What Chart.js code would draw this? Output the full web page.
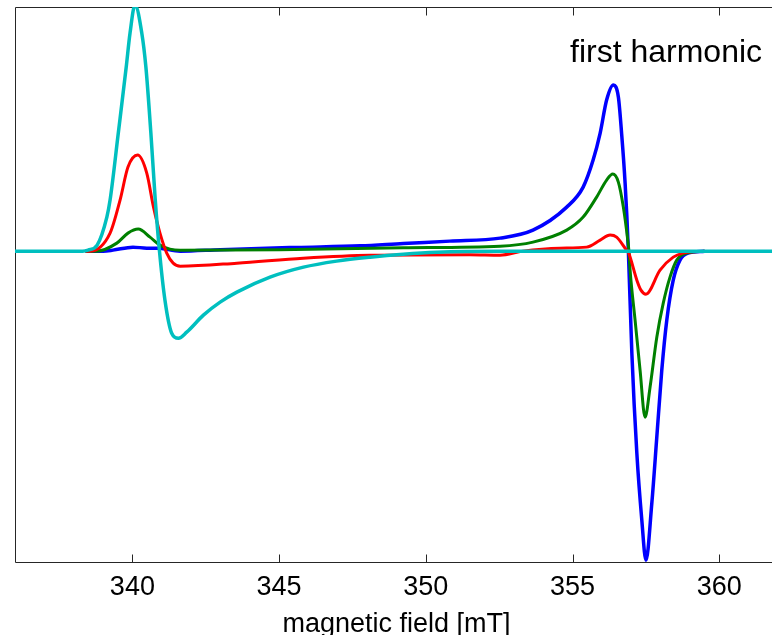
<!DOCTYPE html>
<html>
<head>
<meta charset="utf-8">
<script src="https://cdn.jsdelivr.net/npm/chart.js@4/dist/chart.umd.min.js"></script>
<style>
  html, body { margin: 0; padding: 0; background: #fff; overflow: hidden; width: 772px; height: 635px; }
  #wrap { position: absolute; left: 0; top: 0; width: 800px; height: 650px; }
</style>
</head>
<body>
<div id="wrap"><canvas id="c" width="800" height="650"></canvas></div>
<script>
// ---- data (magnetic field in mT, signal in arbitrary units) ----
const xTicks = [340, 345, 350, 355, 360];
const xLabel = 'magnetic field [mT]';
const annotation = 'first harmonic';

const cyanField  = [336.0, 338.3, 338.49, 338.80, 339.13, 339.24, 339.52, 339.79, 339.92, 340.09, 340.32, 340.46, 340.63, 340.78, 340.92, 341.11, 341.34, 341.57, 341.85, 342.42, 342.99, 343.56, 344.69, 345.83, 346.96, 348.10, 349.23, 350.37, 352.53, 362.0];
const cyanSignal = [0, 0, 0.01, 0.06, 0.34, 0.51, 1.18, 1.84, 2.18, 2.46, 2.18, 1.84, 1.18, 0.51, 0.01, -0.49, -0.82, -0.87, -0.81, -0.64, -0.51, -0.41, -0.26, -0.16, -0.10, -0.06, -0.03, -0.01, 0, 0];

const redField  = [338.4, 338.56, 339.24, 339.58, 339.85, 340.18, 340.49, 340.72, 340.94, 341.17, 341.39, 341.63, 343.56, 345.82, 348.1, 351.5, 352.53, 353.3, 354.57, 355.48, 355.94, 356.28, 356.50, 356.84, 356.9, 357.19, 357.33, 357.5, 357.98, 358.43, 358.76, 359.5];
const redSignal = [0, 0, 0.18, 0.51, 0.84, 0.96, 0.78, 0.44, 0.18, -0.02, -0.12, -0.15, -0.12, -0.07, -0.04, -0.035, -0.04, 0, 0.03, 0.04, 0.11, 0.16, 0.14, 0.01, -0.01, -0.29, -0.39, -0.43, -0.19, -0.06, -0.02, 0];

const greenField  = [338.4, 338.79, 339.47, 339.85, 340.20, 340.60, 340.94, 341.28, 341.63, 345.0, 349.23, 352.53, 353.65, 354.80, 355.36, 355.82, 356.16, 356.37, 356.56, 356.73, 356.88, 356.92, 356.96, 357.13, 357.30, 357.47, 357.64, 357.87, 358.09, 358.32, 358.55, 358.89, 359.5];
const greenSignal = [0, 0, 0.08, 0.18, 0.22, 0.14, 0.06, 0.02, 0.01, 0.015, 0.035, 0.05, 0.09, 0.21, 0.34, 0.54, 0.71, 0.77, 0.69, 0.44, 0.11, 0, -0.19, -0.69, -1.19, -1.66, -1.36, -0.86, -0.52, -0.26, -0.09, -0.02, 0];

const blueField  = [338.4, 339.0, 339.34, 340.02, 340.49, 340.83, 341.63, 343.0, 345.6, 347.76, 349.23, 350.82, 352.53, 353.65, 354.80, 355.36, 355.70, 355.94, 356.16, 356.39, 356.56, 356.67, 356.79, 356.90, 357.02, 357.19, 357.36, 357.50, 357.70, 357.87, 358.04, 358.21, 358.43, 358.66, 358.93, 359.5];
const blueSignal = [0, 0, 0.01, 0.04, 0.03, 0.03, 0, 0.015, 0.037, 0.053, 0.077, 0.1, 0.13, 0.21, 0.44, 0.64, 0.91, 1.18, 1.51, 1.66, 1.54, 1.18, 0.68, 0.01, -1.02, -2.02, -2.69, -3.09, -2.52, -1.86, -1.19, -0.69, -0.29, -0.09, -0.02, 0];

function pts(xs, ys) { return xs.map((x, i) => ({ x: x, y: ys[i] })); }

const FONT = "'Liberation Sans', Arial, Helvetica, sans-serif";

const frame = {
  id: 'frame',
  beforeDatasetsDraw(chart) {
    const { ctx, chartArea: a, scales } = chart;
    ctx.save();
    ctx.strokeStyle = '#262626';
    ctx.lineWidth = 1;
    const L = Math.round(a.left) + 0.5, T = Math.round(a.top) + 0.5;
    const B = Math.round(a.bottom) - 0.5, R = Math.round(a.right) + 0.5;
    ctx.beginPath();
    ctx.moveTo(R, T); ctx.lineTo(L, T); ctx.lineTo(L, B); ctx.lineTo(R, B);
    ctx.stroke();
    ctx.beginPath();
    xTicks.forEach(v => {
      const px = Math.round(scales.x.getPixelForValue(v)) + 0.5;
      ctx.moveTo(px, B); ctx.lineTo(px, B - 8);
      ctx.moveTo(px, T); ctx.lineTo(px, T + 8);
    });
    ctx.stroke();
    ctx.restore();
  },
  afterDraw(chart) {
    const { ctx } = chart;
    ctx.save();
    ctx.fillStyle = '#000';
    ctx.font = '32px ' + FONT;
    ctx.textAlign = 'left';
    ctx.textBaseline = 'alphabetic';
    ctx.fillText(annotation, 570, 62);
    ctx.restore();
  }
};

function ds(label, xs, ys, color, w) {
  return {
    label: label,
    data: pts(xs, ys),
    borderColor: color,
    backgroundColor: color,
    borderWidth: w,
    pointRadius: 0,
    fill: false,
    cubicInterpolationMode: 'monotone'
  };
}

new Chart(document.getElementById('c'), {
  type: 'line',
  data: {
    datasets: [
      ds('cyan', cyanField, cyanSignal, '#00BFBF', 3.5),
      ds('red', redField, redSignal, '#FF0000', 3),
      ds('green', greenField, greenSignal, '#008000', 3),
      ds('blue', blueField, blueSignal, '#0000FF', 3.5)
    ]
  },
  options: {
    responsive: false,
    animation: false,
    devicePixelRatio: 1,
    layout: { padding: { left: 15, top: 7, right: 22, bottom: 0 } },
    plugins: { legend: { display: false }, tooltip: { enabled: false } },
    scales: {
      x: {
        type: 'linear',
        min: 336,
        max: 362,
        afterBuildTicks(scale) { scale.ticks = xTicks.map(v => ({ value: v })); },
        afterFit(scale) { scale.height = 87; },
        grid: { display: false, drawTicks: false },
        border: { display: false },
        ticks: {
          color: '#000',
          font: { family: FONT, size: 27 },
          padding: 8,
          maxRotation: 0,
          autoSkip: false
        },
        title: {
          display: true,
          text: xLabel,
          color: '#000',
          font: { family: FONT, size: 27 },
          padding: { top: 0, bottom: 9 }
        }
      },
      y: {
        display: false,
        min: -3.117,
        max: 2.44
      }
    }
  },
  plugins: [frame]
});
</script>
</body>
</html>
